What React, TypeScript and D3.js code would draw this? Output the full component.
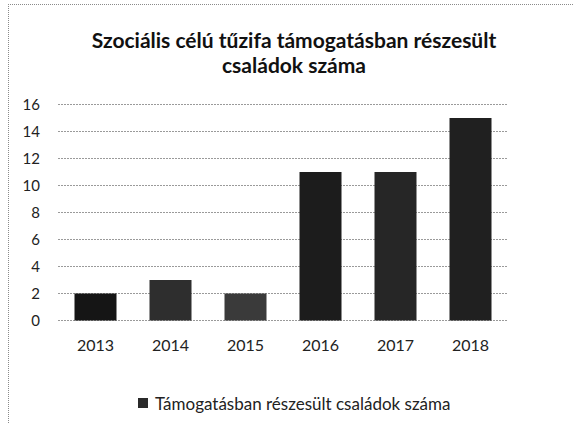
import React, { useEffect, useRef } from "react";
import * as d3 from "d3";

const years = ["2013", "2014", "2015", "2016", "2017", "2018"];
const families = [2, 3, 2, 11, 11, 15];
const barShades = ["#151515", "#2e2e2e", "#3a3a3a", "#1c1c1c", "#262626", "#202020"];
const yTicks = [0, 2, 4, 6, 8, 10, 12, 14, 16];
const titleLines = ["Szociális célú tűzifa támogatásban részesült", "családok száma"];
const seriesName = "Támogatásban részesült családok száma";

const W = 573;
const H = 423;
const FONT = "Lato, 'Open Sans', sans-serif";

const App = () => {
  const svgRef = useRef<SVGSVGElement | null>(null);

  useEffect(() => {
    const svg = d3.select(svgRef.current);
    svg.selectAll("*").remove();

    // frame of the scanned chart (top and left edges only)
    svg.append("line").attr("x1", 8).attr("x2", W).attr("y1", 4.5).attr("y2", 4.5)
      .attr("stroke", "#8a8a8a").attr("stroke-dasharray", "1,1");
    svg.append("line").attr("x1", 8.5).attr("x2", 8.5).attr("y1", 4).attr("y2", H)
      .attr("stroke", "#8a8a8a").attr("stroke-dasharray", "1,1");

    // title
    svg.append("g").selectAll("text").data(titleLines).join("text")
      .attr("x", 294)
      .attr("y", (d, i) => 48 + i * 25)
      .attr("text-anchor", "middle")
      .attr("font-family", FONT)
      .attr("font-weight", "bold")
      .attr("font-size", "21px")
      .attr("fill", "#111")
      .text((d) => d);

    const xScale = d3.scaleBand().domain(years).range([58, 508]).paddingInner(0.44).paddingOuter(0.22);
    const yScale = d3.scaleLinear().domain([0, 16]).range([320.5, 104.5]);

    // gridlines
    svg.append("g").selectAll("line").data(yTicks).join("line")
      .attr("x1", 58).attr("x2", 508)
      .attr("y1", (d) => yScale(d)).attr("y2", (d) => yScale(d))
      .attr("stroke", "#9a9a9a").attr("stroke-width", 1).attr("stroke-dasharray", "2,1");

    // y axis labels
    const yAxis = d3.axisLeft(yScale).tickValues(yTicks).tickSize(0).tickPadding(0);
    const ya = svg.append("g").attr("transform", "translate(40,0)").call(yAxis);
    ya.select(".domain").remove();
    ya.selectAll("text").attr("font-family", FONT).attr("font-size", "15px").attr("fill", "#222");

    // bars
    svg.append("g").selectAll("rect").data(families).join("rect")
      .attr("x", (d, i) => xScale(years[i]) as number)
      .attr("y", (d) => yScale(d))
      .attr("width", xScale.bandwidth())
      .attr("height", (d) => yScale(0) - yScale(d))
      .attr("fill", (d, i) => barShades[i]);

    // x axis labels
    const xAxis = d3.axisBottom(xScale).tickSize(0).tickPadding(0);
    const xa = svg.append("g").attr("transform", "translate(0,340)").call(xAxis);
    xa.select(".domain").remove();
    xa.selectAll("text").attr("font-family", FONT).attr("font-size", "16px").attr("fill", "#222");

    // legend
    const lg = svg.append("g");
    lg.append("rect").attr("x", 138).attr("y", 398).attr("width", 10).attr("height", 10).attr("fill", "#2a2a2a");
    lg.append("text").attr("x", 155).attr("y", 410)
      .attr("font-family", FONT).attr("font-size", "17px").attr("fill", "#222")
      .text(seriesName);
  }, []);

  return (
    <svg ref={svgRef} width={W} height={H}
      style={{ position: "absolute", left: 0, top: 0, background: "#fff" }} />
  );
};

export default App;
